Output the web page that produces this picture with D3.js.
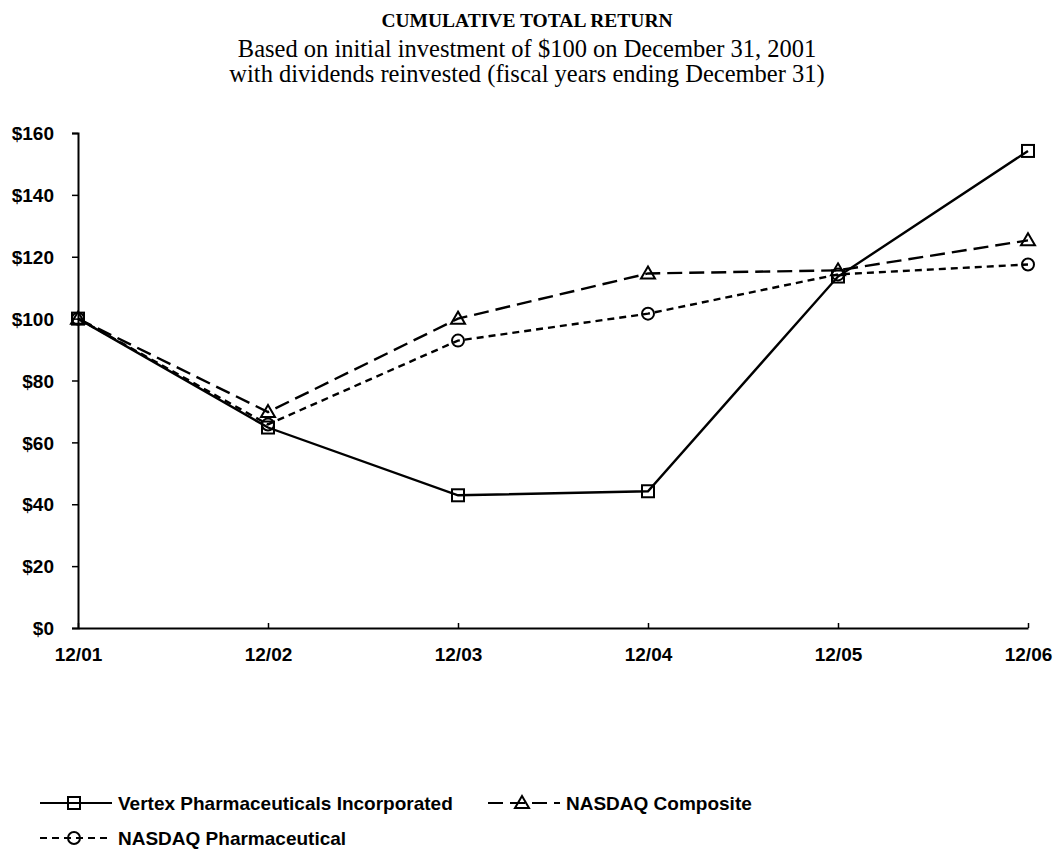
<!DOCTYPE html>
<html>
<head>
<meta charset="utf-8">
<script src="https://cdn.jsdelivr.net/npm/d3@7/dist/d3.min.js"></script>
<style>
  body { margin: 0; background: #fff; }
  .axis-label { font-family: 'Liberation Sans', Arial, sans-serif; font-weight: bold; font-size: 19px; fill: #000; }
  .title { font-family: 'Liberation Serif', 'Times New Roman', serif; fill: #000; }
</style>
</head>
<body>
<svg id="chart" width="1056" height="852"></svg>
<script>
// chart data
const periods = ['12/01', '12/02', '12/03', '12/04', '12/05', '12/06'];
const vertex = [100, 64.8, 42.9, 44.2, 113.6, 154.2];
const nasdaqComposite = [100, 69.8, 100.0, 114.6, 115.6, 125.3];
const nasdaqPharma = [100, 65.8, 92.9, 101.6, 114.3, 117.5];
const yTicks = [0, 20, 40, 60, 80, 100, 120, 140, 160];
const seriesNames = ['Vertex Pharmaceuticals Incorporated', 'NASDAQ Composite', 'NASDAQ Pharmaceutical'];

const titleText = 'CUMULATIVE TOTAL RETURN';
const subtitleLines = [
  'Based on initial investment of $100 on December 31, 2001',
  'with dividends reinvested (fiscal years ending December 31)'
];

const series = [
  { name: seriesNames[0], values: vertex, dash: null, marker: 'square' },
  { name: seriesNames[1], values: nasdaqComposite, dash: '15,7', marker: 'triangle' },
  { name: seriesNames[2], values: nasdaqPharma, dash: '7,5', marker: 'circle' }
];

const svg = d3.select('#chart');

const x = d3.scalePoint().domain(periods).range([78, 1028]);
const y = d3.scaleLinear().domain([0, 160]).range([628, 133]);

// titles
svg.append('text')
  .attr('class', 'title')
  .attr('x', 527).attr('y', 27)
  .attr('text-anchor', 'middle')
  .style('font-size', '19.5px')
  .style('font-weight', 'bold')
  .text(titleText);

subtitleLines.forEach(function (t, i) {
  svg.append('text')
    .attr('class', 'title')
    .attr('x', 527).attr('y', 57 + i * 25)
    .attr('text-anchor', 'middle')
    .style('font-size', '24.5px')
    .text(t);
});

// axes
const yAxis = d3.axisLeft(y)
  .tickValues(yTicks)
  .tickSize(6)
  .tickFormat(function (d) { return '$' + d; });

const gy = svg.append('g')
  .attr('transform', 'translate(78,0)')
  .call(yAxis);
gy.select('.domain').attr('stroke', '#000').attr('stroke-width', 2);
gy.selectAll('.tick line').attr('stroke', '#000').attr('stroke-width', 1.5);
gy.selectAll('.tick text')
  .attr('class', 'axis-label')
  .attr('x', -24)
  .attr('dy', '0.35em');
gy.attr('font-size', null).attr('font-family', null);

const xAxis = d3.axisBottom(x).tickSize(-5).tickSizeOuter(0);
const gx = svg.append('g')
  .attr('transform', 'translate(0,628)')
  .call(xAxis);
gx.select('.domain').attr('stroke', '#000').attr('stroke-width', 2);
gx.selectAll('.tick line').attr('stroke', '#000').attr('stroke-width', 1.5);
gx.selectAll('.tick text')
  .attr('class', 'axis-label')
  .attr('y', 20)
  .attr('dy', '0.71em');
gx.attr('font-size', null).attr('font-family', null);

// marker drawing
function drawMarker(g, type, cx, cy) {
  if (type === 'square') {
    g.append('rect')
      .attr('x', cx - 6).attr('y', cy - 6)
      .attr('width', 12).attr('height', 12)
      .attr('fill', 'none').attr('stroke', '#000').attr('stroke-width', 2);
  } else if (type === 'triangle') {
    g.append('path')
      .attr('d', 'M' + cx + ',' + (cy - 7) + 'L' + (cx + 7) + ',' + (cy + 5) + 'L' + (cx - 7) + ',' + (cy + 5) + 'Z')
      .attr('fill', 'none').attr('stroke', '#000').attr('stroke-width', 2);
  } else {
    g.append('circle')
      .attr('cx', cx).attr('cy', cy).attr('r', 6)
      .attr('fill', 'none').attr('stroke', '#000').attr('stroke-width', 2);
  }
}

const line = d3.line()
  .x(function (d, i) { return x(periods[i]); })
  .y(function (d) { return y(d); });

// draw back to front so Vertex is on top
series.slice().reverse().forEach(function (s) {
  const g = svg.append('g');
  g.append('path')
    .datum(s.values)
    .attr('fill', 'none')
    .attr('stroke', '#000')
    .attr('stroke-width', 2.4)
    .attr('stroke-dasharray', s.dash)
    .attr('d', line);
  s.values.forEach(function (v, i) {
    drawMarker(g, s.marker, x(periods[i]), y(v));
  });
});

// legend
const legendPos = [
  { x: 40, y: 803 },
  { x: 488, y: 803 },
  { x: 40, y: 838 }
];
series.forEach(function (s, i) {
  const p = legendPos[i];
  const g = svg.append('g').attr('transform', 'translate(' + p.x + ',' + p.y + ')');
  g.append('line')
    .attr('x1', 0).attr('x2', 72)
    .attr('y1', 0).attr('y2', 0)
    .attr('stroke', '#000').attr('stroke-width', 2)
    .attr('stroke-dasharray', s.dash);
  drawMarker(g, s.marker, 34, 0);
  g.append('text')
    .attr('class', 'axis-label')
    .attr('x', 78).attr('y', 0)
    .attr('dy', '0.35em')
    .text(s.name);
});
</script>
</body>
</html>
